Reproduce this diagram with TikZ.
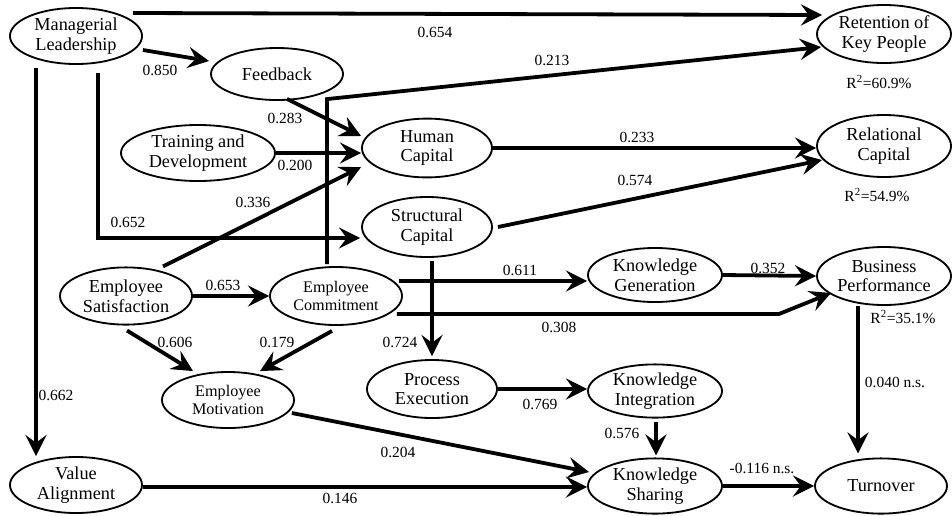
\documentclass[tikz,border=0pt]{standalone}
\usepackage{fontspec}
\setmainfont{Liberation Serif}
\usepackage{tikz}
\usetikzlibrary{shapes.geometric, arrows.meta, positioning}
\tikzstyle{construct} = [ellipse, draw=black, line width=1.3pt, inner sep=0pt, minimum width=3.3cm, minimum height=1.4cm, align=center, font=\fontsize{13}{14}\selectfont]
\tikzstyle{smalltext} = [font=\fontsize{11.5}{12.5}\selectfont]
\tikzstyle{coef} = [inner sep=1pt, font=\fontsize{11}{12}\selectfont]
\tikzstyle{arrow} = [line width=2.7pt, -{Stealth[length=15pt, width=15pt, inset=5.5pt]}]

\begin{document}
\begin{tikzpicture}[x=0.025cm, y=-0.025cm]
			
			\useasboundingbox (0,0) rectangle (952,515);
			
			\node (ml) [construct] at (76,36) {Managerial\\Leadership};
			
			\node (fb) [construct, minimum height=1.3cm] at (277,74) {Feedback};
			
			\node (ret) [construct, minimum width=3.35cm, minimum height=1.45cm] at (884,34) {Retention of\\Key People};
			
			\node (td) [construct, minimum width=3.85cm] at (198,153) {Training and\\Development};
			
			\node (hc) [construct, minimum width=3.25cm, minimum height=1.47cm] at (427,148) {Human\\Capital};
			
			\node (rc) [construct, minimum width=3.35cm, minimum height=1.55cm] at (884,146) {Relational\\Capital};
			
			\node (sc) [construct, minimum width=3.25cm, minimum height=1.5cm] at (427,227) {Structural\\Capital};
			
			\node (es) [construct, minimum height=1.43cm] at (126,296) {Employee\\Satisfaction};
			
			\node (ec) [construct, smalltext, minimum height=1.45cm] at (336,296) {Employee\\Commitment};
			
			\node (em) [construct, smalltext] at (228,400) {Employee\\Motivation};
			
			\node (pe) [construct, minimum width=3.25cm, minimum height=1.45cm] at (432,389) {Process\\Execution};
			
			\node (kg) [construct, minimum width=3.35cm, minimum height=1.35cm] at (655,275) {Knowledge\\Generation};
			
			\node (bp) [construct, minimum width=3.35cm, minimum height=1.45cm] at (884,276) {Business\\Performance};
			
			\node (ki) [construct, minimum width=3.35cm, minimum height=1.33cm] at (655,391) {Knowledge\\Integration};
			
			\node (ks) [construct, minimum width=3.35cm, minimum height=1.38cm] at (655,486) {Knowledge\\Sharing};
			
			\node (to) [construct, minimum height=1.38cm] at (881,486) {Turnover};
			
			\node (va) [construct] at (76,485) {Value\\Alignment};
			
			\node (r_ret) [coef] at (879,82) {R\textsuperscript{2}=60.9\%};
			\node (r_rc) [coef] at (877,195) {R\textsuperscript{2}=54.9\%};
			\node (r_bp) [coef] at (903,317) {R\textsuperscript{2}=35.1\%};
			
			\node (c654) [coef] at (435,32) {0.654};
			\node (c850) [coef] at (160,70) {0.850};
			\node (c283) [coef] at (285,118) {0.283};
			\node (c200) [coef] at (295,165) {0.200};
			\node (c336) [coef] at (253,202) {0.336};
			\node (c652) [coef] at (128,222) {0.652};
			\node (c213) [coef] at (552,60) {0.213};
			\node (c233) [coef] at (637,137) {0.233};
			\node (c574) [coef] at (635,180) {0.574};
			\node (c653) [coef] at (223,285) {0.653};
			\node (c606) [coef] at (175,342) {0.606};
			\node (c179) [coef] at (277,342) {0.179};
			\node (c724) [coef] at (400,342) {0.724};
			\node (c662) [coef] at (56,395) {0.662};
			\node (c204) [coef] at (398,452) {0.204};
			\node (c146) [coef] at (340,498) {0.146};
			\node (c611) [coef] at (520,270) {0.611};
			\node (c352) [coef] at (768,268) {0.352};
			\node (c308) [coef] at (559,327) {0.308};
			\node (c769) [coef] at (540,404) {0.769};
			\node (c576) [coef] at (622,433) {0.576};
			\node (c116) [coef] at (762,468) {-0.116 n.s.};
			\node (c040) [coef] at (895,382) {0.040 n.s.};
			
			
			
			
			\draw [arrow] ([shift={(57,-23)}]ml.center) -- ([shift={(6,-19)}]ret.west);
			\draw [arrow] ([shift={(0,14)}]ml.east) -- ([shift={(-1,-13)}]fb.west);
			\draw [arrow] ([shift={(22,8)}]ml.south) |- ([shift={(-1,11)}]sc.west);
			\draw [arrow] ([shift={(-40,3)}]ml.south) -- ([shift={(-40,0)}]va.north);
			\draw [arrow] ([shift={(10,-2)}]fb.south) -- ([shift={(0,-12)}]hc.west);
			\draw [arrow] (td.east) -- (td.east -| hc.west);
			\draw [arrow] ([shift={(37,0)}]es.north) -- ([shift={(0,19)}]hc.west);
			\draw [arrow] ([shift={(-9,-2)}]ec.north) -- ++(0,-165) -- ([shift={(5,13)}]ret.west);
			\draw [arrow] (hc.east) -- (hc.east -| rc.west);
			\draw [arrow] ([shift={(5,0)}]sc.east) -- ([shift={(6,14)}]rc.west);
			\draw [arrow] ([shift={(5,3)}]sc.south) -- ([shift={(0,-3)}]pe.north);
			\draw [arrow] (es.east) -- (ec.west);
			\draw [arrow] ([shift={(1,5)}]es.south) -- ([shift={(-35,0)}]em.north);
			\draw [arrow] ([shift={(-4,5)}]ec.south) -- ([shift={(32,0)}]em.north);
			\draw [arrow] ([shift={(-4,-15)}]ec.east) -- ([shift={(0,6)}]kg.west);
			\draw [arrow] ([shift={(-6,18)}]ec.east) -- ++(382,0) -- ([shift={(15,17)}]bp.west);
			\draw [arrow] (kg.east) -- (bp.west);
			\draw [arrow] (pe.east) -- (pe.east -| ki.west);
			\draw [arrow] ([shift={(1,3)}]ki.south) -- ([shift={(1,-2)}]ks.north);
			\draw [arrow] ([shift={(-3,13)}]em.east) -- ([shift={(2,-14)}]ks.west);
			\draw [arrow] ([shift={(0,2)}]va.east) -- ([shift={(0,1)}]ks.west);
			\draw [arrow] (ks.east) -- (to.west);
			\draw [arrow] ([shift={(-26,0)}]bp.south) -- ([shift={(-23,-4)}]to.north);
			
		\end{tikzpicture}
\end{document}
